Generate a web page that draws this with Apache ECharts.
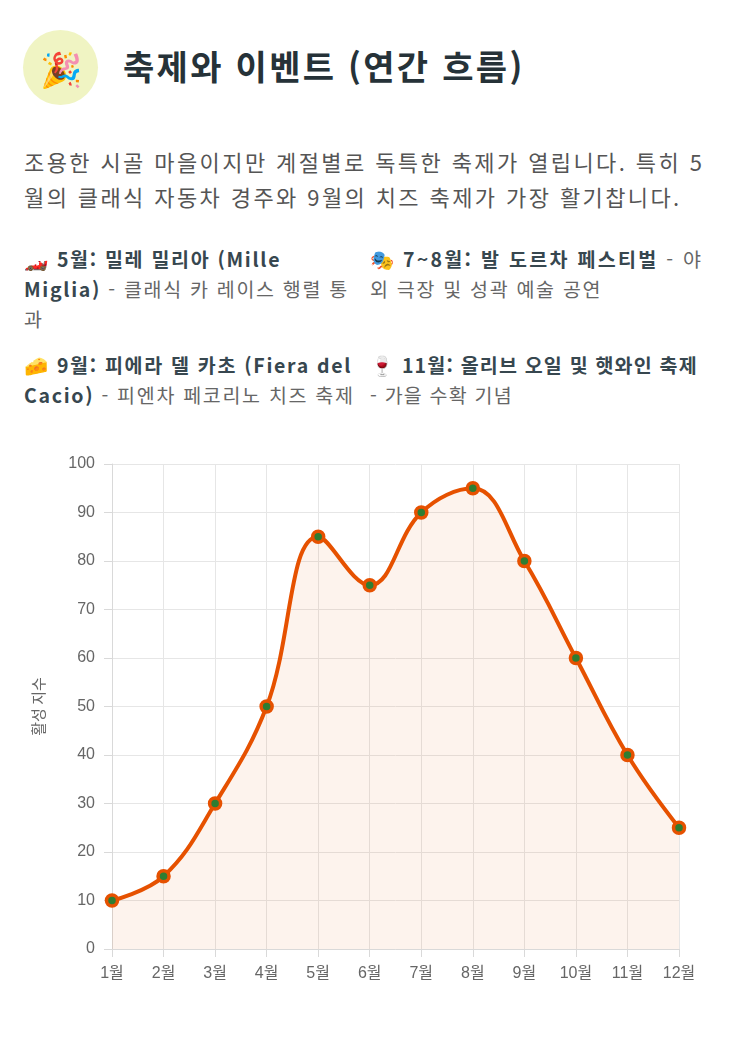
<!DOCTYPE html>
<html lang="ko">
<head>
<meta charset="utf-8">
<script src="https://cdn.jsdelivr.net/npm/echarts@6/dist/echarts.min.js"></script>
<style>
  html, body { margin: 0; padding: 0; background: #fff; }
  body { width: 738px; height: 1044px; overflow: hidden; font-family: "Noto Sans CJK KR", "Noto Sans", sans-serif; }
  .head { position: absolute; left: 23px; top: 30px; display: flex; align-items: center; }
  .icon { width: 75px; height: 75px; border-radius: 50%; background: #f0f4c3; display: flex; align-items: center; justify-content: center; font-size: 34px; }
  .head h2 { margin: -4px 0 0 25px; font-size: 34px; letter-spacing: 2.3px; font-weight: 700; color: #263238; }
  .desc { position: absolute; left: 24px; top: 144px; white-space: nowrap; font-size: 22px; letter-spacing: 2.4px; line-height: 35px; color: #555; margin: 0; }
  .item { position: absolute; white-space: nowrap; font-size: 19.5px; letter-spacing: 1.7px; line-height: 30px; color: #666; }
  .item b { color: #37474f; font-weight: 700; }
  .item .r { letter-spacing: 2.3px; }
  #chart { position: absolute; left: 0; top: 440px; width: 738px; height: 580px; }
</style>
</head>
<body>
<div class="head">
  <div class="icon">🎉</div>
  <h2>축제와 이벤트 (연간 흐름)</h2>
</div>
<p class="desc">조용한 시골 마을이지만 계절별로 독특한 축제가 열립니다. 특히 5<br>월의 클래식 자동차 경주와 9월의 치즈 축제가 가장 활기찹니다.</p>
<div class="item" style="left:24px; top:244px;">🏎️ <b>5월: 밀레 밀리아 (Mille<br>Miglia)</b> - 클래식 카 레이스 행렬 통<br>과</div>
<div class="item" style="left:370px; top:244px;">🎭 <b class="r">7~8월: 발 도르차 페스티벌</b><span class="r"> - 야</span><br>외 극장 및 성곽 예술 공연</div>
<div class="item" style="left:24px; top:350px;">🧀 <b>9월: 피에라 델 카초 (Fiera del<br>Cacio)</b> - 피엔차 페코리노 치즈 축제</div>
<div class="item" style="left:370px; top:350px; letter-spacing:1.2px;">🍷 <b>11월: 올리브 오일 및 햇와인 축제</b><br>- 가을 수확 기념</div>
<div id="chart"></div>
<script>
const months = ['1월', '2월', '3월', '4월', '5월', '6월', '7월', '8월', '9월', '10월', '11월', '12월'];
const activity = [10, 15, 30, 50, 85, 75, 90, 95, 80, 60, 40, 25];
const yAxisName = '활성 지수';

const chart = echarts.init(document.getElementById('chart'), null, { renderer: 'canvas' });
chart.setOption({
  animation: false,
  grid: { left: 112, right: 59, top: 24, bottom: 71 },
  textStyle: { fontFamily: '"Liberation Sans", "Noto Sans CJK KR", sans-serif' },
  xAxis: {
    type: 'category',
    data: months,
    boundaryGap: false,
    axisLine: { lineStyle: { color: '#d9d9d9' } },
    axisTick: { show: true, length: 8, lineStyle: { color: '#d9d9d9' } },
    axisLabel: { color: '#666', fontSize: 16, margin: 17 },
    splitLine: { show: true, lineStyle: { color: '#e6e6e6' } }
  },
  yAxis: {
    type: 'value',
    min: 0,
    max: 100,
    interval: 10,
    name: yAxisName,
    nameLocation: 'middle',
    nameGap: 66,
    nameTextStyle: { color: '#666', fontSize: 15, fontFamily: 'Noto Sans CJK KR' },
    axisLine: { show: true, lineStyle: { color: '#d9d9d9' } },
    axisTick: { show: true, length: 8, lineStyle: { color: '#d9d9d9' } },
    axisLabel: { color: '#666', fontSize: 16, margin: 17 },
    splitLine: { lineStyle: { color: '#e6e6e6' } }
  },
  series: [{
    type: 'line',
    data: activity,
    smooth: 0.4,
    symbol: 'circle',
    symbolSize: 11,
    lineStyle: { color: '#e65100', width: 4 },
    itemStyle: { color: '#2e7d32', borderColor: '#e65100', borderWidth: 3.5 },
    areaStyle: { color: 'rgba(230,81,0,0.1)' }
  }]
});
</script>
</body>
</html>
